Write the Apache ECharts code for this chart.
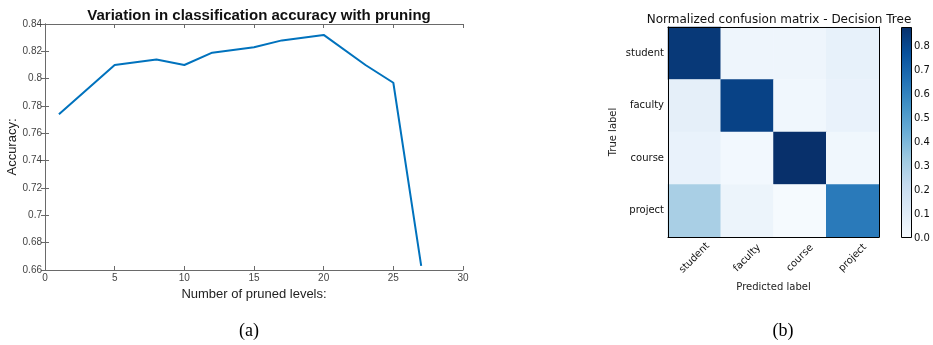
<!DOCTYPE html>
<html><head><meta charset="utf-8">
<script src="https://cdn.jsdelivr.net/npm/echarts@6/dist/echarts.min.js"></script>
<style>html,body{margin:0;padding:0;background:#fff}#c{width:933px;height:345px}</style>
</head><body><div id="c"></div>
<script>
// ---- Data: (a) accuracy vs pruning ----
const prunedLevels = [1, 5, 8, 10, 12, 15, 17, 20, 23, 25, 27];
const accuracy = [0.774, 0.810, 0.814, 0.810, 0.819, 0.823, 0.828, 0.832, 0.810, 0.797, 0.663];
const xTicks = {min: 0, max: 30, interval: 5};
const yTicks = {min: 0.66, max: 0.84, interval: 0.02};

// ---- Data: (b) confusion matrix ----
const classes = ['student', 'faculty', 'course', 'project'];
const rowStudent = [0.85, 0.04, 0.04, 0.07];
const rowFaculty = [0.08, 0.82, 0.03, 0.06];
const rowCourse  = [0.06, 0.02, 0.88, 0.03];
const rowProject = [0.30, 0.05, 0.01, 0.63];
const colorbarMax = 0.88;
const blues = ['#f7fbff','#deebf7','#c6dbef','#9ecae1','#6baed6','#4292c6','#2171b5','#08519c','#08306b'];

const rows = [rowStudent, rowFaculty, rowCourse, rowProject];
const heatData = [];
rows.forEach((r, yi) => r.forEach((v, xi) => heatData.push([xi, yi, v])));
const lineData = prunedLevels.map((x, i) => [x, accuracy[i]]);
const gradStops = blues.map((c, i) => ({offset: i / (blues.length - 1), color: c}));

const chart = echarts.init(document.getElementById('c'), null, {renderer: 'canvas'});
const matFont = 'Liberation Sans';
const mplFont = 'DejaVu Sans';
const grayLine = {lineStyle: {color: '#6a6a6a', width: 1}};

chart.setOption({
  animation: false,
  backgroundColor: '#fff',
  title: [
    {text: 'Variation in classification accuracy with pruning', left: 254, top: 3, textAlign: 'center',
     textStyle: {fontFamily: matFont, fontSize: 15, fontWeight: 'bold', color: '#111'}},
    {text: 'Normalized confusion matrix - Decision Tree', left: 774, top: 9, textAlign: 'center',
     textStyle: {fontFamily: mplFont, fontSize: 12, fontWeight: 'normal', color: '#111'}},
    {text: '(a)', left: 244, top: 317, textAlign: 'center',
     textStyle: {fontFamily: 'Liberation Serif', fontSize: 18, fontWeight: 'normal', color: '#000'}},
    {text: '(b)', left: 778, top: 317, textAlign: 'center',
     textStyle: {fontFamily: 'Liberation Serif', fontSize: 18, fontWeight: 'normal', color: '#000'}}
  ],
  grid: [
    {left: 45, top: 24, width: 418, height: 246},
    {left: 668, top: 27, width: 211, height: 210},
    {left: 901, top: 27, width: 11, height: 211}
  ],
  visualMap: {show: false, seriesIndex: 1, min: 0, max: colorbarMax, inRange: {color: blues}},
  xAxis: [
    {gridIndex: 0, type: 'value', min: xTicks.min, max: xTicks.max, interval: xTicks.interval,
     name: 'Number of pruned levels:', nameLocation: 'middle', nameGap: 13,
     nameTextStyle: {fontFamily: matFont, fontSize: 13, color: '#222'},
     axisLine: grayLine, axisTick: {inside: true, length: 4, lineStyle: {color: '#6a6a6a'}},
     axisLabel: {fontFamily: matFont, fontSize: 10, color: '#444', margin: 3}, splitLine: {show: false}},
    {gridIndex: 0, type: 'value', position: 'top', min: xTicks.min, max: xTicks.max, interval: xTicks.interval,
     axisLine: grayLine, axisTick: {inside: true, length: 4, lineStyle: {color: '#6a6a6a'}},
     axisLabel: {show: false}, splitLine: {show: false}},
    {gridIndex: 1, type: 'category', data: classes, position: 'bottom', z: 10,
     name: 'Predicted label', nameLocation: 'middle', nameGap: 44,
     nameTextStyle: {fontFamily: mplFont, fontSize: 10, color: '#222'},
     axisLine: {lineStyle: {color: '#000', width: 1}},
     axisTick: {inside: true, alignWithLabel: true, length: 4, lineStyle: {color: '#000'}},
     axisLabel: {fontFamily: mplFont, fontSize: 10, color: '#111', rotate: 45, align: 'center', verticalAlign: 'middle', margin: 21},
     splitLine: {show: false}},
    {gridIndex: 1, type: 'category', data: classes, position: 'top', z: 10,
     axisLine: {lineStyle: {color: '#000', width: 1}},
     axisTick: {inside: true, alignWithLabel: true, length: 4, lineStyle: {color: '#000'}},
     axisLabel: {show: false}, splitLine: {show: false}},
    {gridIndex: 2, type: 'category', data: ['cb'], show: false}
  ],
  yAxis: [
    {gridIndex: 0, type: 'value', min: yTicks.min, max: yTicks.max, interval: yTicks.interval,
     name: 'Accuracy:', nameLocation: 'middle', nameGap: 25, nameRotate: 90,
     nameTextStyle: {fontFamily: matFont, fontSize: 13, color: '#222'},
     axisLine: grayLine, axisTick: {inside: true, length: 4, lineStyle: {color: '#6a6a6a'}},
     axisLabel: {fontFamily: matFont, fontSize: 10, color: '#444', margin: 3}, splitLine: {show: false}},
    {gridIndex: 0, type: 'value', position: 'right', min: yTicks.min, max: yTicks.max, interval: yTicks.interval,
     axisLine: grayLine, axisTick: {inside: true, length: 4, lineStyle: {color: '#6a6a6a'}},
     axisLabel: {show: false}, splitLine: {show: false}},
    {gridIndex: 1, type: 'category', data: classes, inverse: true, position: 'left', z: 10,
     name: 'True label', nameLocation: 'middle', nameGap: 50, nameRotate: 90,
     nameTextStyle: {fontFamily: mplFont, fontSize: 10, color: '#222'},
     axisLine: {lineStyle: {color: '#000', width: 1}},
     axisTick: {inside: true, alignWithLabel: true, length: 4, lineStyle: {color: '#000'}},
     axisLabel: {fontFamily: mplFont, fontSize: 10, color: '#111', margin: 4}, splitLine: {show: false}},
    {gridIndex: 1, type: 'category', data: classes, inverse: true, position: 'right', z: 10,
     axisLine: {lineStyle: {color: '#000', width: 1}},
     axisTick: {inside: true, alignWithLabel: true, length: 4, lineStyle: {color: '#000'}},
     axisLabel: {show: false}, splitLine: {show: false}},
    {gridIndex: 2, type: 'value', position: 'right', min: 0, max: colorbarMax, interval: 0.1, z: 10,
     axisLine: {show: false},
     axisTick: {inside: true, length: 3, lineStyle: {color: '#000'}},
     axisLabel: {fontFamily: mplFont, fontSize: 10, color: '#111', margin: 2, showMaxLabel: false,
                 formatter: v => v.toFixed(1)},
     splitLine: {show: false}}
  ],
  series: [
    {type: 'line', xAxisIndex: 0, yAxisIndex: 0, data: lineData, showSymbol: false, symbol: 'none',
     lineStyle: {color: '#0072BD', width: 2}},
    {type: 'heatmap', xAxisIndex: 2, yAxisIndex: 2, data: heatData, itemStyle: {borderWidth: 0}},
    {type: 'bar', xAxisIndex: 4, yAxisIndex: 4, data: [colorbarMax], barWidth: '100%',
     itemStyle: {color: new echarts.graphic.LinearGradient(0, 1, 0, 0, gradStops), borderColor: '#000', borderWidth: 1}}
  ]
});
</script></body></html>
